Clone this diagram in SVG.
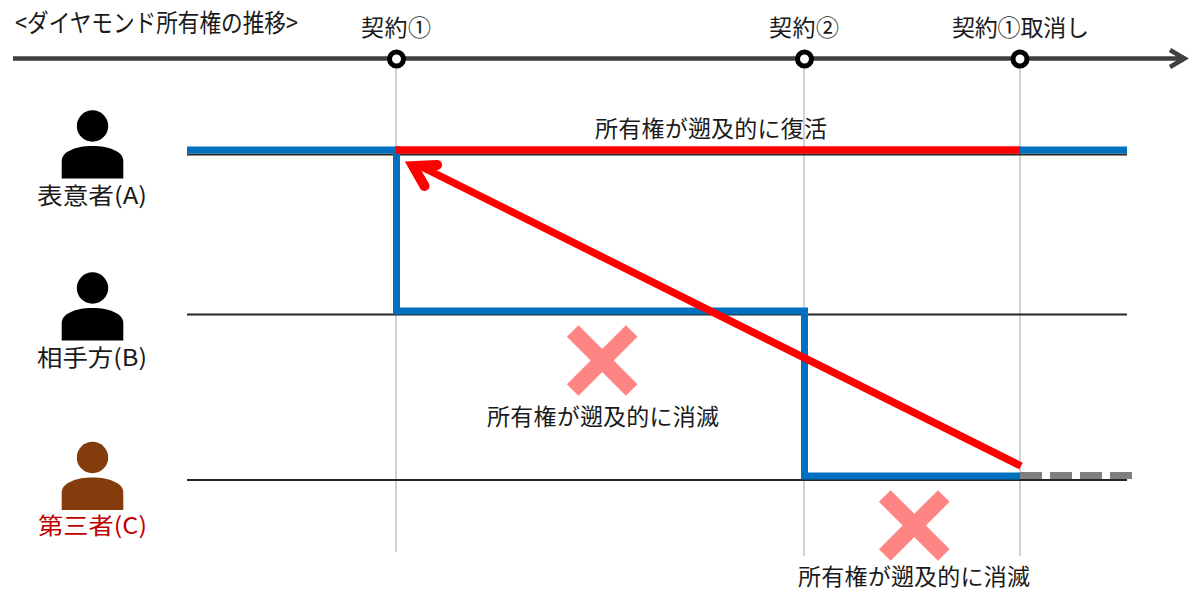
<svg xmlns="http://www.w3.org/2000/svg" width="1200" height="592" viewBox="0 0 1200 592">
<style>
text{font-family:"Noto Sans CJK JP","Noto Sans",sans-serif;font-size:23px;fill:#1a1a1a}
.big{font-size:25px}
.guide{stroke:#b4b4b4;stroke-width:1.2;fill:none}
.row{stroke:#262626;stroke-width:2;fill:none}
.own{stroke:#0070c0;stroke-width:7;fill:none}
.red{stroke:#ff0000;stroke-width:7.500;fill:none}
.x{stroke:#ff8585;stroke-width:16.5;fill:none}
.mark{fill:#fff;stroke:#000;stroke-width:5}
</style>
<defs>
<g id="person"><circle cx="92.5" cy="16" r="15.7"/><path d="M61.7 68.5V51C61.700 42 75 36 92.5 36S123.300 42 123.300 51V68.500Z"/></g>
</defs>
<rect width="1200" height="592" fill="#fff"/>
<g id="connectors">
<path class="guide" d="M396 58V552M804 58V556M1020 58V556"/>
<path class="row" d="M187 154.500H1127M187 314.500H1127M187 480H1127"/>
<path d="M13 58.500H1183M1170 50L1184.500 58.500L1170 67" fill="none" stroke="#404040" stroke-width="4.500"/>
<path class="own" d="M187 150H396.500V311H804.500V476H1020"/>
<path class="own" d="M1020 150H1127"/>
<path class="red" d="M396 150H1020"/>
<path d="M1020 475.500H1132" fill="none" stroke="#7f7f7f" stroke-width="7" stroke-dasharray="22 8"/>
<path class="red" d="M1021 466L416 164"/>
<path d="M437 165L413.200 166.200L424.500 186" fill="none" stroke="#ff0000" stroke-width="10" stroke-linecap="round" stroke-miterlimit="10"/>
</g>
<g id="mark1"><circle class="mark" cx="396.500" cy="59" r="7"/></g>
<g id="mark2"><circle class="mark" cx="804.500" cy="59" r="7"/></g>
<g id="mark3"><circle class="mark" cx="1020" cy="59" r="7"/></g>
<g id="title"><text class="big" x="15" y="32" textLength="283" lengthAdjust="spacingAndGlyphs">&lt;ダイヤモンド所有権の推移&gt;</text></g>
<g id="label1"><text x="361" y="36" textLength="70">契約①</text></g>
<g id="label2"><text x="769" y="36" textLength="70">契約②</text></g>
<g id="label3"><text x="952" y="36" textLength="137">契約①取消し</text></g>
<g id="personA"><use href="#person" y="110"/><text x="37" y="204" textLength="110" lengthAdjust="spacingAndGlyphs">表意者(A)</text></g>
<g id="personB"><use href="#person" y="272"/><text x="37" y="366" textLength="110" lengthAdjust="spacingAndGlyphs">相手方(B)</text></g>
<g id="personC"><use href="#person" y="441.500" fill="#843c0c"/><text x="38" y="534" textLength="109" lengthAdjust="spacingAndGlyphs" style="fill:#c00000">第三者(C)</text></g>
<g id="revive"><text x="595" y="137" textLength="232">所有権が遡及的に復活</text></g>
<g id="void1"><path class="x" d="M572.700 331L631.700 390M631.700 331L572.700 390"/><text x="487" y="425" textLength="232">所有権が遡及的に消滅</text></g>
<g id="void2"><path class="x" d="M884.800 496L943.800 555M943.800 496L884.800 555"/><text x="798" y="585" textLength="232">所有権が遡及的に消滅</text></g>
</svg>
